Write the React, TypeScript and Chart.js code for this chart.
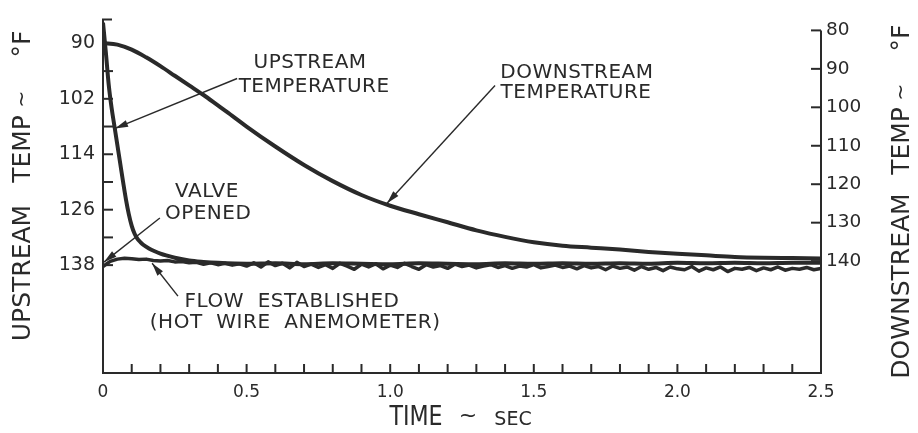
import { useEffect, useRef } from 'react';
import { Chart, registerables } from 'chart.js';
Chart.register(...registerables);

// ---------- data ----------
const upstreamTimes = [0, 0.01, 0.02, 0.03, 0.04, 0.05, 0.06, 0.07, 0.08, 0.09, 0.1, 0.11, 0.12, 0.13, 0.14, 0.16, 0.18, 0.2, 0.22, 0.25, 0.3, 0.35,
  0.4, 0.5, 0.6, 0.7, 0.8, 0.9, 1.0, 1.1, 1.2, 1.3, 1.4, 1.5, 1.6, 1.7, 1.8, 1.9, 2.0, 2.1, 2.2, 2.3, 2.4, 2.5];
const upstreamTemps = [85.5, 92.0, 99.0, 104.0, 108.0, 112.0, 116.0, 120.0, 123.8, 127.0, 129.5, 131.2, 132.3, 133.0, 133.6, 134.4, 135.0, 135.5, 135.9, 136.4, 137.0, 137.3,
  137.5, 137.7, 137.6, 137.8, 137.6, 137.7, 137.8, 137.6, 137.7, 137.8, 137.6, 137.7, 137.6, 137.7, 137.6, 137.7, 137.5, 137.6, 137.5, 137.6, 137.5, 137.5];

const downstreamTimes = [0, 0.05, 0.1, 0.15, 0.2, 0.25, 0.3, 0.35, 0.4, 0.45, 0.5,
  0.6, 0.7, 0.8, 0.9, 1.0, 1.1, 1.2, 1.3, 1.4, 1.5, 1.6, 1.7, 1.8, 1.9, 2.0, 2.1, 2.2, 2.3, 2.4, 2.5];
const downstreamTemps = [83.3, 83.7, 85.0, 87.0, 89.3, 91.8, 94.3, 96.8, 99.5, 102.2, 105.0,
  110.2, 115.0, 119.2, 122.8, 125.6, 127.8, 129.9, 132.0, 133.7, 135.1, 136.0, 136.5, 137.0, 137.6, 138.1, 138.5, 138.9, 139.1, 139.2, 139.3];

const flowTimes = [0, 0.025, 0.05, 0.075, 0.1, 0.125, 0.15, 0.175, 0.2, 0.225, 0.25, 0.275, 0.3, 0.325, 0.35, 0.375, 0.4, 0.425, 0.45, 0.475,
  0.5, 0.525, 0.55, 0.575, 0.6, 0.625, 0.65, 0.675, 0.7, 0.725, 0.75, 0.775, 0.8, 0.825, 0.85, 0.875, 0.9, 0.925, 0.95, 0.975,
  1.0, 1.025, 1.05, 1.075, 1.1, 1.125, 1.15, 1.175, 1.2, 1.225, 1.25, 1.275, 1.3, 1.325, 1.35, 1.375, 1.4, 1.425, 1.45, 1.475,
  1.5, 1.525, 1.55, 1.575, 1.6, 1.625, 1.65, 1.675, 1.7, 1.725, 1.75, 1.775, 1.8, 1.825, 1.85, 1.875, 1.9, 1.925, 1.95, 1.975,
  2.0, 2.025, 2.05, 2.075, 2.1, 2.125, 2.15, 2.175, 2.2, 2.225, 2.25, 2.275, 2.3, 2.325, 2.35, 2.375, 2.4, 2.425, 2.45, 2.475, 2.5];
const flowValues = [138.3, 137.2, 136.7, 136.5, 136.6, 136.8, 136.7, 137.0, 137.1, 137.0, 137.3, 137.2, 137.5, 137.4, 137.8, 137.5, 137.9, 137.6, 138.0, 137.7,
  138.2, 137.5, 138.4, 137.3, 138.1, 137.6, 138.6, 137.4, 138.3, 137.8, 138.5, 137.9, 138.7, 137.6, 138.2, 138.9, 137.8, 138.4, 137.7, 138.8,
  138.0, 138.5, 137.6, 138.3, 138.9, 137.9, 138.4, 138.1, 138.7, 137.8, 138.3, 138.0, 138.6, 138.2, 137.9, 138.5, 138.1, 138.7, 138.2, 138.4,
  137.9, 138.6, 138.3, 138.0, 138.5, 138.2, 138.8, 138.1, 138.6, 138.3, 139.0, 138.2, 138.7, 138.4, 139.1, 138.3, 138.9, 138.5, 139.2, 138.4,
  138.8, 139.0, 138.3, 139.3, 138.6, 139.0, 138.4, 139.4, 138.7, 138.9, 138.5, 139.2, 138.6, 139.0, 138.4, 139.1, 138.7, 138.9, 138.5, 139.0, 138.7];

const xTickLabels = [0, 0.5, 1.0, 1.5, 2.0, 2.5];
const xMinorTicks = [0.1, 0.2, 0.3, 0.4, 0.5, 0.6, 0.7, 0.8, 0.9, 1.0, 1.1, 1.2, 1.3, 1.4, 1.5, 1.6, 1.7, 1.8, 1.9, 2.0, 2.1, 2.2, 2.3, 2.4];
const leftTickLabels = [90, 102, 114, 126, 138];
const leftMinorTicks = [96, 108, 120, 132];
const rightTickLabels = [80, 90, 100, 110, 120, 130, 140];

// annotation anchors in data units (time, upstream temp)
const annotations = [
  { lines: ['UPSTREAM', 'TEMPERATURE'], at: [[0.721, 94.3], [0.735, 99.5]], arrow: [[0.467, 97.6], [0.042, 108.4]] },
  { lines: ['DOWNSTREAM', 'TEMPERATURE'], at: [[1.65, 96.3], [1.647, 100.8]], arrow: [[1.365, 99.1], [0.989, 124.6]] },
  { lines: ['VALVE', 'OPENED'], at: [[0.362, 122.2], [0.366, 126.8]], arrow: [[0.198, 127.8], [0.0035, 137.35]] },
  { lines: ['FLOW  ESTABLISHED', '(HOT  WIRE  ANEMOMETER)'], at: [[0.658, 146.0], [0.669, 150.5]], arrow: [[0.261, 144.7], [0.171, 137.6]] },
];

const INK = '#2a2a2a';
const FONT = '"DejaVu Sans", sans-serif';

const toXY = (xs: number[], ys: number[]) => xs.map((x, i) => ({ x, y: ys[i] }));

const paperPlugin = {
  id: 'paper',
  afterDatasetsDraw(chart: any) {
    const ctx: CanvasRenderingContext2D = chart.ctx;
    const { left, right, top, bottom } = chart.chartArea;
    const xs = chart.scales.x;
    const yl = chart.scales.yL;
    const yr = chart.scales.yR;
    ctx.save();
    ctx.strokeStyle = INK;
    ctx.fillStyle = INK;
    ctx.lineWidth = 2;
    ctx.lineCap = 'butt';
    // axes
    const rTop = yr.getPixelForValue(rightTickLabels[0]);
    ctx.beginPath();
    ctx.moveTo(left + 9, top);
    ctx.lineTo(left, top);
    ctx.lineTo(left, bottom);
    ctx.lineTo(right, bottom);
    ctx.lineTo(right, rTop);
    ctx.stroke();
    [...leftTickLabels, ...leftMinorTicks].forEach((v) => {
      const y = yl.getPixelForValue(v);
      ctx.beginPath();
      ctx.moveTo(left, y);
      ctx.lineTo(left + 10, y);
      ctx.stroke();
    });
    rightTickLabels.forEach((v) => {
      const y = yr.getPixelForValue(v);
      ctx.beginPath();
      ctx.moveTo(right, y);
      ctx.lineTo(right - 10, y);
      ctx.stroke();
    });
    xMinorTicks.forEach((v) => {
      const x = xs.getPixelForValue(v);
      ctx.beginPath();
      ctx.moveTo(x, bottom);
      ctx.lineTo(x, bottom - 9);
      ctx.stroke();
    });

    // annotations
    ctx.textAlign = 'center';
    ctx.textBaseline = 'middle';
    ctx.font = `20px ${FONT}`;
    (ctx as any).letterSpacing = '0.5px';
    annotations.forEach((a) => {
      a.lines.forEach((s, i) => {
        ctx.fillText(s, xs.getPixelForValue(a.at[i][0]), yl.getPixelForValue(a.at[i][1]));
      });
      const x0 = xs.getPixelForValue(a.arrow[0][0]);
      const y0 = yl.getPixelForValue(a.arrow[0][1]);
      const x1 = xs.getPixelForValue(a.arrow[1][0]);
      const y1 = yl.getPixelForValue(a.arrow[1][1]);
      ctx.lineWidth = 1.4;
      ctx.beginPath();
      ctx.moveTo(x0, y0);
      ctx.lineTo(x1, y1);
      ctx.stroke();
      const ang = Math.atan2(y1 - y0, x1 - x0);
      const L = 13, W = 3.5;
      ctx.beginPath();
      ctx.moveTo(x1, y1);
      ctx.lineTo(x1 - L * Math.cos(ang) + W * Math.sin(ang), y1 - L * Math.sin(ang) - W * Math.cos(ang));
      ctx.lineTo(x1 - L * Math.cos(ang) - W * Math.sin(ang), y1 - L * Math.sin(ang) + W * Math.cos(ang));
      ctx.closePath();
      ctx.fill();
    });
    (ctx as any).letterSpacing = '0px';

    // axis titles
    const vText = (s: string, x: number, y: number, size: number) => {
      ctx.save();
      ctx.translate(x, y);
      ctx.rotate(-Math.PI / 2);
      ctx.font = `${size}px ${FONT}`;
      ctx.textAlign = 'center';
      ctx.textBaseline = 'middle';
      ctx.fillText(s, 0, 0);
      ctx.restore();
    };
    vText('UPSTREAM', 23, 273, 25);
    vText('TEMP', 23, 149, 25);
    vText('~', 23, 99, 20);
    vText('°F', 23, 44, 25);
    vText('DOWNSTREAM', 902, 286, 25);
    vText('TEMP', 902, 141, 25);
    vText('~', 902, 92, 20);
    vText('°F', 902, 38, 25);

    ctx.save();
    ctx.textBaseline = 'alphabetic';
    ctx.textAlign = 'center';
    ctx.translate(416, 425);
    ctx.scale(0.82, 1);
    ctx.font = `27px ${FONT}`;
    ctx.fillText('TIME', 0, 0);
    ctx.restore();
    ctx.textAlign = 'center';
    ctx.textBaseline = 'alphabetic';
    ctx.font = `22px ${FONT}`;
    ctx.fillText('~', 468, 422);
    ctx.font = `19px ${FONT}`;
    ctx.fillText('SEC', 513, 425);
    ctx.restore();
  },
};

export default function App() {
  const ref = useRef<HTMLCanvasElement>(null);
  useEffect(() => {
    const chart = new Chart(ref.current!, {
      type: 'line',
      data: {
        datasets: [
          {
            label: 'Upstream',
            data: toXY(upstreamTimes, upstreamTemps),
            yAxisID: 'yL',
            borderColor: INK,
            borderWidth: 4,
            pointRadius: 0,
            cubicInterpolationMode: 'monotone',
            borderJoinStyle: 'round',
          },
          {
            label: 'Downstream',
            data: toXY(downstreamTimes, downstreamTemps),
            yAxisID: 'yR',
            borderColor: INK,
            borderWidth: 4,
            pointRadius: 0,
            cubicInterpolationMode: 'monotone',
            borderJoinStyle: 'round',
          },
          {
            label: 'Flow',
            data: toXY(flowTimes, flowValues),
            yAxisID: 'yL',
            borderColor: INK,
            borderWidth: 3.5,
            pointRadius: 0,
            tension: 0,
            borderJoinStyle: 'round',
          },
        ],
      },
      options: {
        responsive: false,
        animation: false,
        devicePixelRatio: 1,
        layout: { padding: { top: 19, left: 0, right: 0, bottom: 0 } },
        plugins: { legend: { display: false }, tooltip: { enabled: false } },
        scales: {
          x: {
            type: 'linear',
            min: 0,
            max: 2.5,
            grid: { display: false, drawTicks: false },
            border: { display: false },
            afterBuildTicks: (s: any) => { s.ticks = xTickLabels.map((v) => ({ value: v })); },
            afterFit: (s: any) => { s.height = 60; },
            ticks: {
              padding: 9,
              maxRotation: 0,
              autoSkip: false,
              color: INK,
              font: { family: FONT, size: 17 },
              callback: (v: any) => (v === 0 ? '0' : Number(v).toFixed(1)),
            },
          },
          yL: {
            type: 'linear',
            position: 'left',
            reverse: true,
            min: 84.81,
            max: 161.35,
            grid: { display: false, drawTicks: false },
            border: { display: false },
            afterBuildTicks: (s: any) => { s.ticks = leftTickLabels.map((v) => ({ value: v })); },
            afterFit: (s: any) => { s.width = 103; },
            ticks: { padding: 8, autoSkip: false, color: INK, font: { family: FONT, size: 19 } },
          },
          yR: {
            type: 'linear',
            position: 'right',
            reverse: true,
            min: 77.14,
            max: 169.09,
            grid: { display: false, drawTicks: false },
            border: { display: false },
            afterBuildTicks: (s: any) => { s.ticks = rightTickLabels.map((v) => ({ value: v })); },
            afterFit: (s: any) => { s.width = 97; },
            ticks: { padding: 5, autoSkip: false, color: INK, font: { family: FONT, size: 18.5 } },
          },
        },
      },
      plugins: [paperPlugin],
    } as any);
    return () => chart.destroy();
  }, []);
  return (
    <div style={{ position: 'fixed', left: 0, top: 0, width: 918, height: 433, background: '#fff' }}>
      <canvas ref={ref} width={918} height={433} style={{ display: 'block', width: 918, height: 433 }} />
    </div>
  );
}
